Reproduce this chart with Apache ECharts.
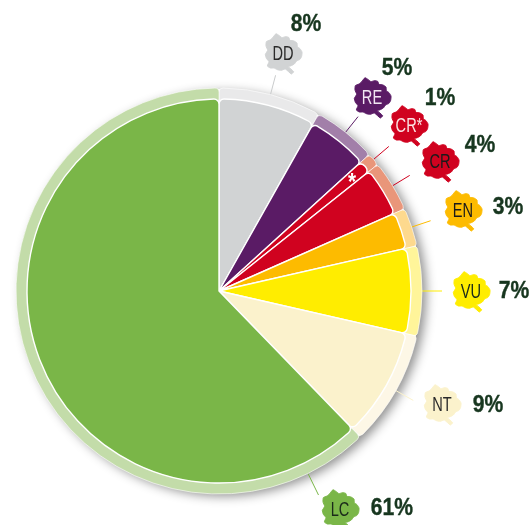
<!DOCTYPE html>
<html><head><meta charset="utf-8">
<style>html,body{margin:0;padding:0;background:#fff}#c{width:530px;height:525px}</style>
<script src="https://cdn.jsdelivr.net/npm/echarts@6/dist/echarts.min.js"></script>
</head><body><div id="c"></div>
<script>
const categories = ['DD','RE','CR*','CR','EN','VU','NT','LC'];
const percents = [8,5,1,4,3,7,9,61];
const innerColors = ['#d1d3d4','#5a1b65','#d0021f','#d0021f','#fdbb00','#ffed00','#fbf2cc','#7ab648'];
const ringColors = ['#e9e9ea','#a27fa9','#e9967a','#e9967a','#fdd98e','#fff59a','#fdf7e6','#c3dca9'];
const lineColors = ['#c9cbcc','#5a1b65','#d0021f','#d0021f','#fdbb00','#ffed00','#fbf2cc','#7ab648'];
const labelColors = ['#2a2a2a','#f1e6f2','#fbe3e3','#1a1a1a','#1a1a1a','#1a2a1a','#2a2a2a','#1a2a1a'];
const leafCentres = [[283,53],[372,97],[409,125],[440,161],[463,210],[471,291],[442,404],[340,509]];
const pctPositions = [[306,24],[397,68],[440,98],[480,145],[508,207],[514,291],[488,405],[392,508]];
const lcLeaderDegrees = 154;

const CX = 219, CY = 291, R_IN = 192, R_OUT = 203;
const leafOutline = [[50,100],[60,106],[68,112],[78,109],[88,111],[92,120],[104,122],[113,128],[114,139],[122,145],[128,155],[127,168],[122,177],[112,182],[105,191],[96,196],[87,199],[103,214],[96,221],[78,206],[66,210],[54,208],[44,203],[33,203],[24,197],[29,184],[21,174],[18,162],[25,150],[20,137],[21,124],[32,119],[40,112]];
const total = percents.reduce((a,b)=>a+b,0);
const graphics = [{type:'circle',z:0,shape:{cx:CX,cy:CY,r:R_OUT-1},style:{fill:'#fff',shadowBlur:11,shadowColor:'rgba(0,0,0,0.45)',shadowOffsetX:5,shadowOffsetY:3}}];
let cum = 0;
percents.forEach((p,i)=>{
  let a = (cum + p/2)/total*2*Math.PI; cum += p;
  if (categories[i]==='LC') a = lcLeaderDegrees*Math.PI/180;
  const s = Math.sin(a), c = Math.cos(a);
  const len = categories[i]==='LC' ? 24 : 20;
  graphics.push({type:'line',z:1,shape:{x1:CX+s*R_OUT,y1:CY-c*R_OUT,x2:CX+s*(R_OUT+len),y2:CY-c*(R_OUT+len)},style:{stroke:lineColors[i],lineWidth:1}});
  const [lx,ly] = leafCentres[i];
  graphics.push({type:'polygon',z:3,shape:{smooth:0.15,points:leafOutline.map(([x,y])=>[lx+(x-71)/3,ly+(y-158)/3])},style:{fill:innerColors[i],stroke:innerColors[i],lineWidth:1,lineJoin:'round'}});
  graphics.push({type:'text',z:4,x:lx,y:ly+1,scaleX:0.73,style:{text:categories[i],font:'20px "Liberation Sans"',fill:labelColors[i],align:'center',verticalAlign:'middle'}});
  const [tx,ty] = pctPositions[i];
  graphics.push({type:'text',z:4,x:tx,y:ty,scaleX:0.88,style:{text:p+'%',font:'bold 24px "Liberation Sans"',fill:'#17361f',stroke:'#17361f',lineWidth:0.4,align:'center',verticalAlign:'middle'}});
});
graphics.push({type:'text',z:5,x:352,y:184,scaleX:0.9,style:{text:'*',font:'bold 23px "Liberation Sans"',fill:'#fff',align:'center',verticalAlign:'middle'}});

const mk = (colors)=>percents.map((v,i)=>({name:categories[i],value:v,itemStyle:{color:colors[i]}}));
const base = {type:'pie',center:[CX,CY],startAngle:90,clockwise:true,silent:true,animation:false,label:{show:false},labelLine:{show:false},emphasis:{disabled:true},z:2};
const chart = echarts.init(document.getElementById('c'),null,{renderer:'canvas'});
chart.setOption({
  animation:false,
  graphic:graphics,
  series:[
    {...base,radius:[R_IN-4,R_OUT],data:mk(ringColors),itemStyle:{borderColor:'#fff',borderWidth:0.6,borderRadius:4}},
    {...base,z:3,radius:[0,R_IN],data:mk(innerColors),itemStyle:{borderColor:'#fff',borderWidth:1.4,borderRadius:[0,5]}}
  ]
});
</script></body></html>
